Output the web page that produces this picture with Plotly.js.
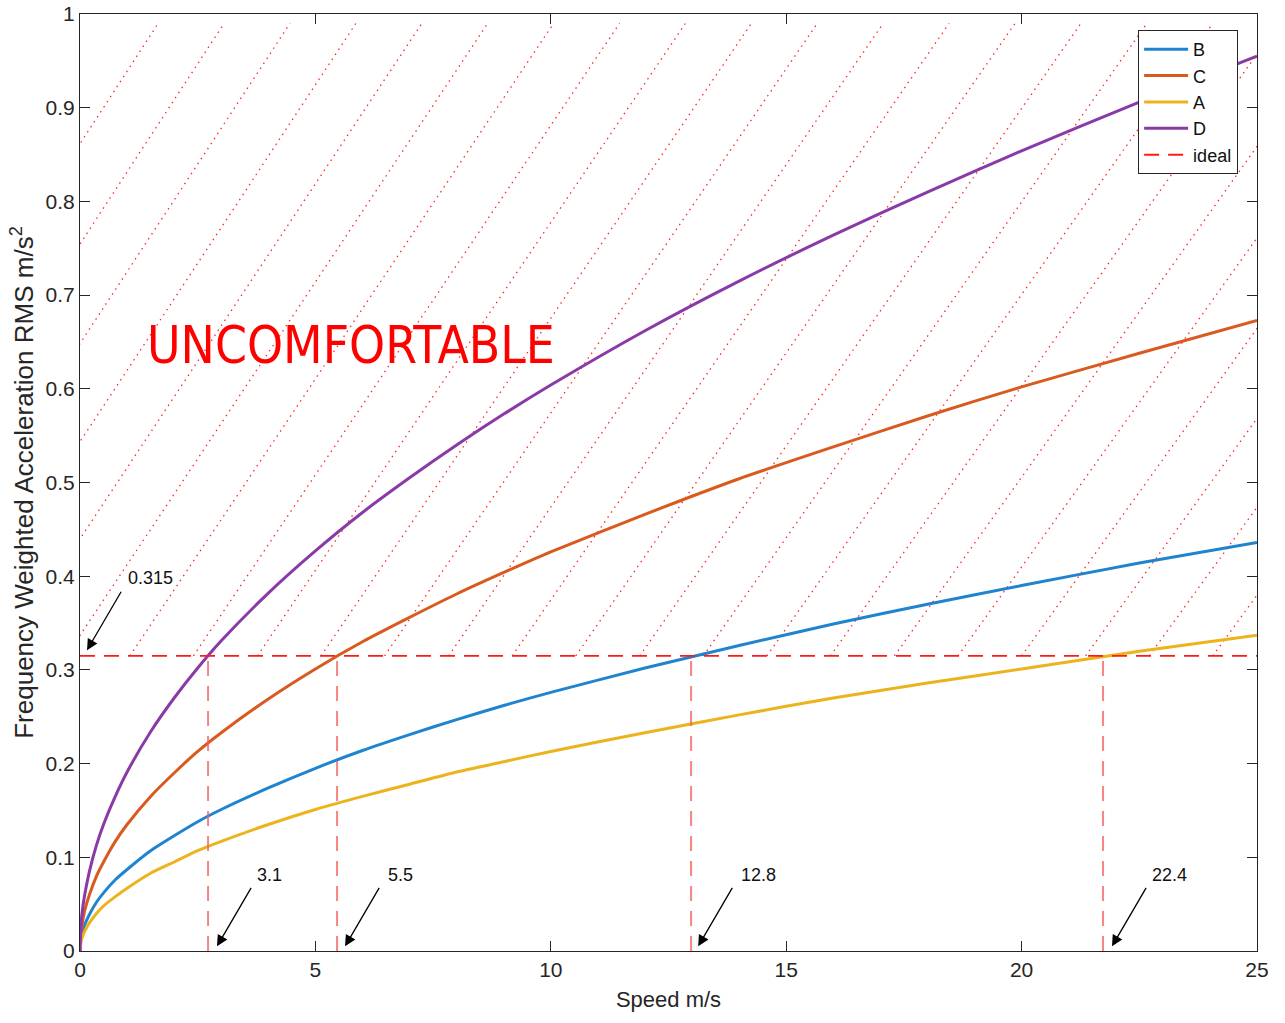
<!DOCTYPE html>
<html>
<head>
<meta charset="utf-8">
<script src="https://cdn.plot.ly/plotly-3.0.1.min.js"></script>
<style>html,body{margin:0;padding:0;background:#fff;}#chart{width:1285px;height:1023px;}</style>
</head>
<body>
<div id="chart"></div>
<script>
// Speed (m/s) samples
const speed = [0, 0.02, 0.05, 0.1, 0.2, 0.35, 0.5, 0.75, 1, 1.5, 2, 2.5, 3, 4, 5, 6, 7, 8, 9, 10, 12, 14, 16, 18, 20, 22.5, 25];
// Frequency weighted acceleration RMS (m/s^2) per series
const accB = [0, 0.012, 0.020, 0.028, 0.039, 0.052, 0.062, 0.076, 0.087, 0.107, 0.123, 0.138, 0.151, 0.174, 0.195, 0.214, 0.231, 0.247, 0.262, 0.276, 0.302, 0.326, 0.349, 0.370, 0.390, 0.414, 0.436];
const accC = [0, 0.019, 0.030, 0.043, 0.060, 0.080, 0.095, 0.117, 0.135, 0.165, 0.190, 0.213, 0.233, 0.269, 0.301, 0.330, 0.356, 0.381, 0.404, 0.426, 0.466, 0.504, 0.538, 0.571, 0.602, 0.638, 0.673];
const accA = [0, 0.010, 0.015, 0.021, 0.030, 0.040, 0.048, 0.058, 0.067, 0.083, 0.095, 0.107, 0.117, 0.135, 0.151, 0.165, 0.178, 0.191, 0.202, 0.213, 0.233, 0.252, 0.270, 0.286, 0.301, 0.320, 0.337];
const accD = [0, 0.027, 0.043, 0.060, 0.085, 0.113, 0.135, 0.165, 0.191, 0.234, 0.270, 0.302, 0.331, 0.382, 0.427, 0.468, 0.505, 0.540, 0.573, 0.604, 0.662, 0.715, 0.764, 0.810, 0.854, 0.906, 0.955];
const seriesNames = ['B', 'C', 'A', 'D'];

// ideal comfort limit and crossing speeds
const idealLevel = 0.315;
const idealSpan = [0, 25];
const crossSpeed = [2.72, 5.46, 12.98, 21.73];
const crossLabels = ['3.1', '5.5', '12.8', '22.4'];

// hatch lines of the uncomfortable zone (x at bottom and top of each line)
const hatchBottomX = [-7.06, -5.71, -4.35, -3.00, -1.65, -0.29, 1.06, 2.41, 3.77, 5.12, 6.47, 7.83, 9.18, 10.53, 11.89, 13.24, 14.59, 15.94, 17.30, 18.65, 20.00, 21.36, 22.71, 24.06];
const hatchTopX = [1.66, 3.06, 4.46, 5.86, 7.26, 8.66, 10.06, 11.46, 12.86, 14.26, 15.66, 17.06, 18.46, 19.86, 21.26, 22.66, 24.06, 25.46, 26.86, 28.26, 29.66, 31.06, 32.46, 33.86];
const hatchTopY = 0.99;

const colors = {B: '#1f84d0', C: '#d95a1e', A: '#edb31c', D: '#8a3aa6'};
const FONT = 'Liberation Sans, Arial, Helvetica, sans-serif';

// hatch trace
const hx = [], hy = [];
for (let i = 0; i < hatchBottomX.length; i++) {
  hx.push(hatchBottomX[i], hatchTopX[i], null);
  hy.push(idealLevel, hatchTopY, null);
}
const traces = [];
traces.push({x: hx, y: hy, mode: 'lines', showlegend: false, hoverinfo: 'skip',
  line: {color: 'rgba(255,0,0,0.85)', width: 1.3, dash: '1.5px,4.5px'}});

const accs = {B: accB, C: accC, A: accA, D: accD};
seriesNames.forEach(n => {
  traces.push({x: speed, y: accs[n], name: n, mode: 'lines',
    line: {color: colors[n], width: 3, shape: 'spline', smoothing: 0.6}});
});

traces.push({x: idealSpan, y: [idealLevel, idealLevel], name: 'ideal', mode: 'lines',
  line: {color: '#ff1a1a', width: 1.8, dash: '15px,9px'}});

// vertical crossing lines
const vx = [], vy = [];
crossSpeed.forEach(s => { vx.push(s, s, null); vy.push(0, idealLevel, null); });
traces.push({x: vx, y: vy, mode: 'lines', showlegend: false, hoverinfo: 'skip',
  line: {color: 'rgba(245,90,90,0.75)', width: 2, dash: '15px,10px'}});

// annotations
const headX = [2.91, 5.63, 13.13, 21.92];
const labelX = [4.02, 6.80, 14.42, 23.15];
const annotations = [];
crossLabels.forEach((lab, i) => {
  annotations.push({x: headX[i], y: 0.005, ax: 35, ay: -60, text: '', showarrow: true,
    arrowhead: 2, arrowsize: 1.7, arrowwidth: 1.3, arrowcolor: '#000'});
  annotations.push({x: labelX[i], y: 0.081, text: lab, showarrow: false,
    font: {family: FONT, size: 18, color: '#111'}});
});
annotations.push({x: 0.149, y: 0.321, ax: 35, ay: -60, text: '', showarrow: true,
  arrowhead: 2, arrowsize: 1.7, arrowwidth: 1.3, arrowcolor: '#000'});
annotations.push({x: 1.487, y: 0.398, text: String(idealLevel), showarrow: false,
  font: {family: FONT, size: 18, color: '#111'}});
annotations.push({x: 5.76, y: 0.646, text: 'UNCOMFORTABLE', showarrow: false,
  font: {family: 'Liberation Sans Narrow, DejaVu Sans Condensed, Arial Narrow, sans-serif', size: 51, color: '#ff0000'}});

const axisCommon = {
  showline: true, mirror: 'ticks', linecolor: '#262626', linewidth: 1,
  ticks: 'inside', ticklen: 10, tickcolor: '#262626', tickwidth: 1,
  showgrid: false, zeroline: false,
  tickfont: {family: FONT, size: 21, color: '#262626'}
};

const layout = {
  width: 1285, height: 1023,
  margin: {l: 80, r: 28, t: 14, b: 72},
  paper_bgcolor: '#fff', plot_bgcolor: '#fff',
  font: {family: FONT, color: '#262626'},
  xaxis: Object.assign({}, axisCommon, {range: [0, 25], dtick: 5, tick0: 0,
    title: {text: 'Speed m/s', standoff: 11, font: {family: FONT, size: 22, color: '#262626'}}}),
  yaxis: Object.assign({}, axisCommon, {range: [0, 1], dtick: 0.1, tick0: 0,
    title: {text: 'Frequency Weighted Acceleration RMS m/s<sup>2</sup>', standoff: 4, font: {family: FONT, size: 26, color: '#262626'}}}),
  legend: {x: 0.899, y: 0.983, xanchor: 'left', yanchor: 'top', bgcolor: '#fff',
    bordercolor: '#262626', borderwidth: 1, font: {family: FONT, size: 18, color: '#111'},
    tracegroupgap: 0, itemwidth: 44},
  annotations: annotations,
  showlegend: true
};

Plotly.newPlot('chart', traces, layout, {displayModeBar: false, staticPlot: true});
</script>
</body>
</html>
